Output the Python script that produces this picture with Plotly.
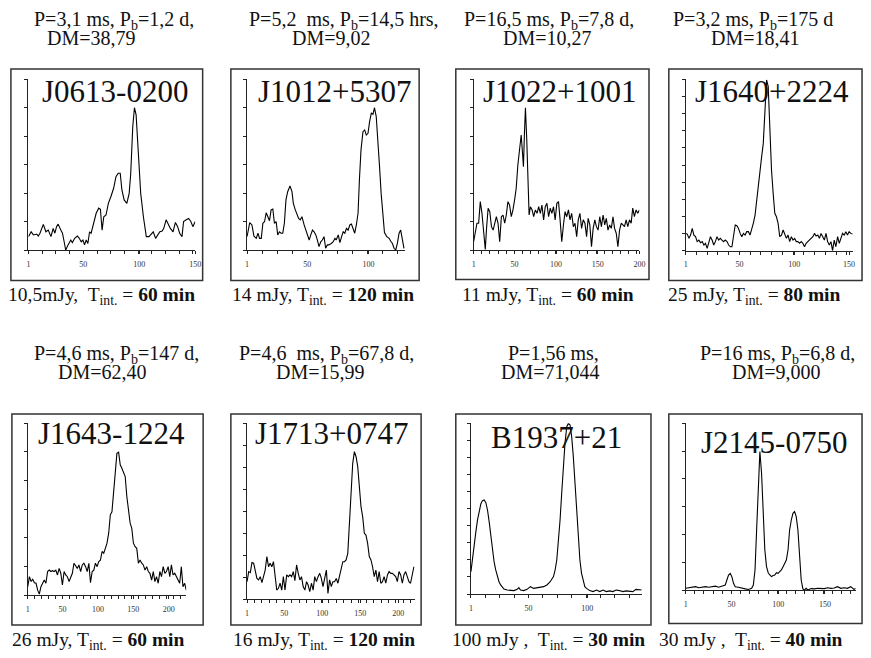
import numpy as np
import plotly.graph_objects as go

W, H = 871, 658

# ------------------------------------------------------------------ data
names = ["J0613-0200", "J1012+5307", "J1022+1001", "J1640+2224",
         "J1643-1224", "J1713+0747", "B1937+21", "J2145-0750"]

header_line1 = ["P=3,1 ms, P<sub>b</sub>=1,2 d,",
                "P=5,2\u00a0 ms, P<sub>b</sub>=14,5 hrs,",
                "P=16,5 ms, P<sub>b</sub>=7,8 d,",
                "P=3,2 ms, P<sub>b</sub>=175 d",
                "P=4,6 ms, P<sub>b</sub>=147 d,",
                "P=4,6\u00a0 ms, P<sub>b</sub>=67,8 d,",
                "P=1,56 ms,",
                "P=16 ms, P<sub>b</sub>=6,8 d,"]
header_line2 = ["DM=38,79", "DM=9,02", "DM=10,27", "DM=18,41",
                "DM=62,40", "DM=15,99", "DM=71,044", "DM=9,000"]
footers = ["10,5mJy,\u00a0 T<sub>int.</sub> = <b>60 min</b>",
           "14 mJy, T<sub>int.</sub> = <b>120 min</b>",
           "11 mJy, T<sub>int.</sub> = <b>60 min</b>",
           "25 mJy, T<sub>int.</sub> = <b>80 min</b>",
           "26 mJy, T<sub>int.</sub> = <b>60 min</b>",
           "16 mJy, T<sub>int.</sub> = <b>120 min</b>",
           "100 mJy ,\u00a0 T<sub>int.</sub> = <b>30 min</b>",
           "30 mJy ,\u00a0 T<sub>int.</sub> = <b>40 min</b>"]

tick_labels = [[1, 50, 100, 150], [1, 50, 100], [1, 50, 100, 150, 200], [1, 50, 100, 150],
               [1, 50, 100, 150, 200], [1, 50, 100, 150, 200], [1, 50, 100], [1, 50, 100, 150]]

J0613_phase = [1, 3.4, 5.4, 8.4, 9.8, 11.3, 14.3, 16.6, 18.7, 21.1,
               23.1, 24.6, 26.1, 27.5, 29.9, 31.4, 32.9, 34.3, 36.4, 38.8,
               40.2, 42.3, 44.7, 46.1, 48.2, 49.7, 51.1, 52.6, 54.1, 55.6,
               57.0, 59.4, 61.5, 63.8, 65.3, 66.8, 68.3, 70.3, 72.4, 74.7,
               77.1, 79.2, 81.2, 83.0, 84.5, 86.5, 88.9, 91.0, 92.4, 94.2,
               95.7, 97.2, 98.9, 101.3, 103.7, 106.3, 108.7, 110.7, 112.5, 114.6,
               116.0, 118.4, 120.5, 121.9, 124.0, 125.8, 127.8, 130.2, 132.3, 134.3,
               136.1, 138.2, 139.6, 142.0, 144.1, 146.1, 147.9, 150.0]
J0613_flux = [0.47, 0.64, 0.53, 0.56, 0.49, 0.59, 0.90, 0.64, 0.70, 0.47,
              0.76, 0.59, 0.82, 0.91, 0.70, 0.59, 0.29, 0.00, 0.18, 0.35,
              0.26, 0.41, 0.49, 0.43, 0.29, 0.35, 0.18, 0.35, 0.23, 0.64,
              0.59, 0.94, 1.29, 1.47, 1.43, 0.70, 1.17, 1.23, 1.64, 1.88,
              2.17, 2.58, 2.70, 2.70, 2.11, 1.76, 1.64, 1.99, 2.70, 4.34,
              5.00, 4.75, 3.63, 1.99, 1.17, 0.47, 0.47, 0.56, 0.64, 0.41,
              0.49, 0.64, 0.67, 0.76, 1.06, 0.91, 0.76, 0.64, 0.97, 0.82,
              0.59, 0.47, 1.00, 1.06, 1.11, 1.00, 0.82, 1.00]

J1012_phase = [1, 3.2, 5, 6.6, 8.5, 9.9, 11.2, 12.6, 13.9, 15.3,
               16.6, 17.9, 19.3, 20.6, 22, 23.3, 24.7, 26, 27.4, 28.7,
               30.1, 31.4, 32.7, 34.1, 36, 37.6, 38.7, 40.3, 41.4, 43,
               44.3, 45.7, 47.5, 48.9, 50.2, 51.6, 52.9, 54.3, 55.6, 57,
               58.3, 59.6, 61, 62.3, 63.7, 65, 66.4, 67.7, 69.6, 71.2,
               72.6, 73.6, 75.3, 76.6, 78, 79.3, 80.6, 82, 83.3, 84.7,
               86, 87.4, 88.7, 90, 91.4, 92.5, 93.8, 95.4, 96.8, 98.1,
               99.5, 100.8, 102.2, 103.5, 104.8, 106.2, 107.5, 108.9, 110.2, 111.6,
               112.9, 114.8, 116.7, 118.3, 119.4, 120.7, 122.1, 123.4, 124.8, 126.1,
               127.4, 128.8]
J1012_flux = [0.47, 0.96, 0.88, 0.49, 0.41, 0.59, 0.41, 0.41, 0.94, 1.00,
              1.31, 1.17, 1.03, 1.41, 1.44, 0.94, 1.00, 0.53, 0.64, 0.59,
              0.59, 0.94, 1.76, 2.05, 2.25, 2.05, 1.64, 1.41, 1.31, 1.11,
              1.06, 1.17, 0.88, 0.70, 0.47, 0.35, 0.53, 0.70, 0.64, 0.53,
              0.35, 0.12, 0.29, 0.35, 0.47, 0.06, 0.18, 0.18, 0.23, 0.29,
              0.41, 0.35, 0.53, 0.26, 0.47, 0.64, 0.59, 0.76, 0.70, 0.88,
              0.91, 0.76, 0.59, 0.88, 1.29, 2.46, 3.52, 4.16, 4.22, 4.04,
              4.10, 4.51, 4.81, 4.77, 5.00, 4.69, 3.93, 2.93, 1.99, 1.11,
              0.61, 0.47, 0.41, 0.29, 0.23, 0.06, 0.00, 0.23, 0.59, 0.70,
              0.35, 0.06]

J1022_phase = [1, 3, 5, 7, 9, 11, 13, 15, 16.5, 18.4,
               20.4, 22.4, 24.4, 26.4, 28.3, 30.3, 32.3, 34.3, 36.3, 38.3,
               40.2, 42.2, 44.2, 46.2, 48.2, 50.2, 52.1, 54.1, 56.1, 58.1,
               59.7, 60.8, 62, 63.2, 64.8, 66, 67.6, 69.2, 71.2, 73.1,
               75.1, 77.1, 79.1, 81.1, 83, 85, 87, 89, 91, 93,
               94.9, 96.9, 98.9, 100.9, 102.9, 104.8, 106.8, 108.8, 110.8, 112.8,
               114.8, 116.7, 118.7, 120.7, 122.7, 124.7, 126.6, 128.6, 130.6, 132.6,
               134.6, 136.6, 138.5, 140.5, 142.5, 144.5, 146.5, 148.4, 150.4, 152.4,
               154.4, 156.4, 158.4, 160.3, 162.3, 164.3, 166.3, 168.3, 170.2, 172.2,
               174.2, 176.2, 178.2, 180.2, 182.1, 184.1, 186.1, 188.1, 190.1, 192,
               194, 196, 198, 200]
J1022_flux = [0.29, 0.59, 0.94, 0.94, 1.70, 1.29, 0.70, 0.02, 0.76, 1.47,
              1.35, 0.82, 0.70, 1.00, 1.17, 0.94, 0.29, 1.17, 1.23, 0.94,
              1.23, 1.70, 1.58, 1.17, 1.41, 1.76, 2.17, 2.99, 3.63, 4.04,
              3.40, 2.93, 4.10, 5.00, 3.87, 2.23, 1.23, 1.52, 1.41, 1.17,
              1.41, 1.29, 1.52, 1.29, 1.58, 1.06, 1.52, 1.64, 1.17, 1.47,
              1.29, 1.52, 1.06, 1.64, 1.70, 1.06, 0.29, 0.88, 1.35, 1.17,
              1.41, 1.06, 1.29, 0.82, 0.94, 0.47, 1.06, 1.29, 0.76, 1.06,
              0.94, 0.47, 1.11, 0.88, 0.12, 0.76, 1.06, 0.82, 0.70, 1.17,
              0.82, 1.23, 0.88, 1.11, 0.70, 0.88, 0.76, 1.17, 0.76, 0.59,
              0.12, 0.70, 0.94, 0.88, 0.82, 1.06, 0.82, 1.06, 0.94, 1.47,
              1.17, 1.41, 1.29, 1.41]

J1640_phase = [1, 2.5, 4, 5.5, 7, 8.5, 10, 11.5, 13, 14.6,
               16.1, 17.6, 19.1, 20.6, 22.1, 23.6, 25.1, 26.6, 28.1, 29.6,
               31.1, 32.6, 34.1, 35.6, 37.1, 38.7, 40.2, 41.7, 43.2, 44.7,
               46.2, 47.7, 49.2, 50.7, 52.2, 53.7, 55.2, 56.7, 58.2, 59.7,
               61.2, 62.7, 64.3, 65.8, 67.3, 68.8, 70.3, 71.8, 73.3, 74.8,
               76.3, 77.8, 79.3, 80.8, 82.3, 83.8, 85.3, 86.8, 88.4, 89.9,
               91.4, 92.9, 94.4, 95.9, 97.4, 98.9, 100.4, 101.9, 103.4, 104.9,
               106.4, 107.9, 109.4, 110.9, 112.4, 114.0, 115.5, 117.0, 118.5, 120.0,
               121.5, 123.0, 124.5, 126.0, 127.5, 129.0, 130.5, 132.0, 133.5, 135.0,
               136.5, 138.0, 139.6, 141.1, 142.6, 144.1, 145.6, 147.1, 148.6, 150.1,
               151.6, 153.1]
J1640_flux = [1.01, 0.97, 0.72, 0.91, 1.30, 0.91, 0.82, 0.53, 0.62, 0.47,
              0.53, 0.33, 0.43, 0.14, 0.47, 0.82, 0.62, 0.33, 0.53, 0.82,
              0.62, 0.72, 0.62, 0.53, 0.62, 0.53, 0.33, 0.23, 0.23, 0.82,
              1.50, 1.46, 1.30, 1.01, 0.82, 1.01, 0.91, 1.11, 1.11, 0.91,
              1.21, 1.60, 2.08, 2.96, 3.74, 4.90, 5.49, 6.26, 7.82, 9.96,
              9.57, 7.04, 4.71, 3.35, 2.18, 1.98, 1.60, 0.82, 0.91, 1.21,
              0.91, 0.72, 0.91, 0.53, 0.82, 0.62, 0.72, 0.53, 0.53, 0.43,
              0.53, 0.43, 0.23, 0.43, 0.53, 0.62, 0.72, 0.82, 1.01, 0.86,
              0.91, 0.72, 1.01, 0.82, 0.62, 1.01, 0.53, 0.33, 0.53, 0.00,
              0.62, 0.23, 0.82, 0.43, 0.72, 1.01, 0.91, 1.11, 0.91, 1.11,
              1.01, 0.97]

J1643_phase = [1, 3.3, 5.7, 8, 10.3, 12.7, 15, 17.3, 19.6, 22,
               24.3, 26.6, 29, 31.3, 33.6, 36, 38.3, 40.6, 42.9, 45.3,
               47.6, 49.9, 52.3, 54.6, 56.9, 59.3, 61.6, 63.9, 66.2, 68.6,
               70.9, 73.2, 75.6, 77.9, 80.2, 82.6, 84.9, 87.2, 89.5, 91.9,
               94.2, 96.5, 98.9, 101.2, 103.5, 105.9, 108.2, 110.5, 112.8, 115.2,
               117.5, 119.8, 122.2, 124.5, 126.8, 129.2, 131.5, 133.8, 136.1, 138.5,
               140.8, 143.1, 145.5, 147.8, 150.1, 152.5, 154.8, 157.1, 159.4, 161.8,
               164.1, 166.4, 168.8, 171.1, 173.4, 175.8, 178.1, 180.4, 182.7, 185.1,
               187.4, 189.7, 192.1, 194.4, 196.7, 199.1, 201.4, 203.7, 206.0, 208.4,
               210.7, 213.0, 215.4, 217.7, 220.0, 222.4, 224.7]
J1643_flux = [0.29, 0.64, 0.47, 0.55, 0.43, 0.41, 0.17, 0.03, 0.29, 0.41,
              0.52, 0.41, 0.82, 0.87, 0.82, 0.85, 0.82, 0.87, 0.70, 0.93,
              0.76, 0.35, 0.82, 0.70, 0.64, 0.47, 0.66, 0.76, 1.11, 0.99,
              0.93, 1.05, 0.82, 1.05, 1.11, 0.99, 0.82, 1.11, 0.43, 0.82,
              0.87, 1.11, 0.99, 1.17, 1.22, 1.52, 1.46, 1.63, 1.81, 2.16,
              2.80, 2.91, 3.67, 4.43, 4.95, 4.99, 4.55, 4.43, 4.25, 4.14,
              3.44, 2.86, 2.51, 2.33, 1.81, 1.69, 1.63, 1.11, 1.22, 1.11,
              1.05, 0.87, 0.99, 0.82, 0.76, 0.52, 0.82, 0.47, 0.64, 0.41,
              0.82, 0.64, 0.99, 0.76, 0.82, 0.99, 0.64, 1.05, 0.70, 0.76,
              0.64, 0.52, 0.41, 0.99, 0.29, 0.41, 0.17]

J1713_phase = [1, 3.2, 5.3, 7.5, 9.7, 11.9, 14, 16.2, 18.4, 20.6,
               22.7, 24.9, 27.1, 29.3, 31.4, 33.6, 35.8, 38, 40.1, 42.3,
               44.5, 46.7, 48.8, 51, 53.2, 55.4, 57.5, 59.7, 61.9, 64,
               66.2, 68.4, 70.6, 72.7, 74.9, 77.1, 79.3, 81.4, 83.6, 85.8,
               88, 90.1, 92.3, 94.5, 96.7, 98.8, 101, 103.2, 105.4, 107.5,
               109.7, 111.9, 114.0, 116.2, 118.4, 120.6, 122.7, 124.9, 127.1, 129.3,
               131.4, 133.6, 135.8, 138, 140.1, 142.3, 144.5, 146.7, 148.8, 151,
               153.2, 155.4, 157.5, 159.7, 161.9, 164.1, 166.2, 168.4, 170.6, 172.7,
               174.9, 177.1, 179.3, 181.4, 183.6, 185.8, 188, 190.1, 192.3, 194.5,
               196.7, 198.8, 201, 203.2, 205.4, 207.5, 209.7, 211.9, 214.1, 216.2,
               218.4, 220.6]
J1713_flux = [0.80, 1.26, 1.21, 1.67, 1.64, 1.33, 0.95, 0.88, 1.03, 0.76,
              1.03, 1.33, 1.94, 1.48, 1.64, 1.48, 1.71, 1.03, 0.42, 0.50,
              0.73, 0.42, 1.03, 0.42, 1.11, 1.03, 1.11, 1.03, 1.26, 0.85,
              1.56, 1.18, 0.88, 1.03, 0.58, 0.42, 0.80, 0.65, 0.35, 0.73,
              0.42, 1.03, 0.80, 1.03, 1.18, 0.95, 0.58, 0.95, 1.33, 0.27,
              0.88, 0.58, 0.80, 0.80, 0.95, 0.73, 1.03, 1.26, 1.71, 1.71,
              1.79, 2.09, 3.45, 5.12, 6.18, 6.71, 6.48, 6.03, 4.97, 4.21,
              3.76, 3.00, 2.92, 2.55, 1.94, 1.79, 1.48, 1.03, 1.33, 0.80,
              1.26, 0.73, 0.80, 1.03, 0.73, 1.11, 1.26, 1.18, 1.18, 1.11,
              1.03, 0.80, 1.26, 1.11, 0.73, 1.11, 1.26, 1.03, 0.80, 0.73,
              1.18, 1.48]

B1937_phase = [1, 2.4, 3.8, 5.2, 6.6, 8, 9.4, 10.8, 12.2, 13.7,
               15.1, 16.5, 17.9, 19.3, 20.7, 22.1, 23.5, 24.9, 26.3, 27.7,
               29.1, 31.9, 34.7, 37.6, 40.4, 41.8, 43.2, 46, 48.8, 51.6,
               54.4, 57.2, 60.1, 62.9, 65.7, 68.5, 71.3, 72.7, 74.1, 75.5,
               76.9, 78.3, 79.7, 81.1, 82.6, 84, 85.4, 86.8, 88.2, 89.6,
               91, 92.4, 93.8, 95.2, 96.6, 98, 99.4, 102.2, 105, 107.9,
               110.7, 113.5, 116.3, 119.1, 121.9, 124.7, 127.5, 130.4, 133.2, 136,
               138.8, 141.6, 144.4, 146.4]
B1937_flux = [1.31, 2.19, 2.97, 3.65, 4.34, 4.88, 5.27, 5.47, 5.51, 5.35,
              4.92, 4.24, 3.36, 2.58, 1.89, 1.41, 1.02, 0.72, 0.53, 0.39,
              0.29, 0.23, 0.23, 0.20, 0.27, 0.37, 0.23, 0.20, 0.27, 0.43,
              0.33, 0.37, 0.39, 0.43, 0.53, 0.72, 1.02, 1.41, 1.99, 2.97,
              4.34, 5.90, 7.46, 8.83, 9.80, 10.0, 9.90, 9.22, 8.05, 6.48,
              4.73, 3.16, 1.99, 1.21, 0.72, 0.43, 0.33, 0.20, 0.14, 0.23,
              0.14, 0.23, 0.14, 0.18, 0.14, 0.23, 0.20, 0.14, 0.18, 0.14,
              0.14, 0.27, 0.27, 0.23]

J2145_phase = [1, 4.5, 8.1, 11.6, 15.1, 18.7, 22.2, 25.7, 29.2, 32.8,
               36.3, 39.8, 43.4, 45.1, 46.9, 48.7, 50.4, 52.2, 54, 57.5,
               61, 64.6, 68.1, 71.6, 73.4, 75.2, 76.9, 78.7, 80.4, 82.2,
               84, 85.7, 87.5, 89.3, 91, 92.8, 94.6, 96.3, 98.1, 99.9,
               101.6, 103.4, 105.2, 106.9, 108.7, 110.5, 112.2, 114, 115.8, 117.5,
               119.3, 121.1, 122.8, 124.6, 126.4, 128.1, 129.9, 131.6, 135.2, 138.7,
               142.2, 145.8, 149.3, 152.8, 156.4, 159.9, 163.4, 167, 170.5, 174,
               177.6, 181.1, 182.8]
J2145_flux = [0.06, 0.08, 0.10, 0.12, 0.08, 0.10, 0.12, 0.10, 0.12, 0.14,
              0.10, 0.14, 0.18, 0.36, 0.54, 0.60, 0.48, 0.24, 0.12, 0.10,
              0.06, 0.04, 0.02, 0.06, 0.18, 0.72, 2.16, 3.84, 4.98, 4.20,
              2.64, 1.44, 0.84, 0.62, 0.54, 0.48, 0.52, 0.54, 0.62, 0.60,
              0.66, 0.72, 0.84, 0.96, 1.08, 1.44, 2.16, 2.52, 2.76, 2.82,
              2.64, 2.16, 1.20, 0.36, 0.04, 0.00, 0.06, 0.00, 0.05, 0.04,
              0.06, 0.06, 0.05, 0.08, 0.06, 0.07, 0.12, 0.06, 0.08, 0.06,
              0.12, 0.02, 0.06]

phases = [J0613_phase, J1012_phase, J1022_phase, J1640_phase,
          J1643_phase, J1713_phase, B1937_phase, J2145_phase]
fluxes = [J0613_flux, J1012_flux, J1022_flux, J1640_flux,
          J1643_flux, J1713_flux, B1937_flux, J2145_flux]

# ------------------------------------------------------------------ layout geometry (pixels)
plot_px = [(26.7, 195.0, 79.3, 250.0), (247.3, 407.2, 79.3, 250.0),
           (476.0, 643.3, 79.3, 250.0), (690.0, 859.3, 79.3, 250.7),
           (26.0, 186.0, 423.3, 595.0), (247.3, 416.7, 423.3, 599.3),
           (473.3, 645.7, 423.3, 594.0), (690.0, 861.7, 423.3, 590.0)]
x_max = [150, 130, 200, 154, 224.7, 221.9, 146.5, 183]
y_max = [6, 6, 6, 10, 6, 8, 10, 6]
minor_step = [12.25, 12.25, 9.8, 9.8, 9.8, 9.8, 12.25, 9.8]
box_px = [(9, 202.5, 69, 280.5), (231, 421, 69, 280.5), (458, 653, 69, 279.5), (673, 868, 69, 280.5),
          (10, 203, 414, 625), (231, 423, 414, 625), (458, 655, 414, 625), (673, 868, 414, 623.5)]
title_pos = [(114, 91), (336.5, 91), (563, 91), (777, 91),
             (111, 433), (333, 434), (560, 437), (779, 442.5)]
head1_pos = [(113.5, 20.5), (345, 20.5), (552, 20.5), (757.5, 20.5),
             (116, 354), (328, 354), (557, 352.5), (783, 354)]
head2_pos = [(90, 37.5), (332.5, 37.5), (551, 37.5), (760, 37.5),
             (101.5, 371.5), (321, 371.5), (554, 371.5), (782, 371.5)]
foot_pos = [(100.5, 296), (324, 296), (551, 296), (759, 296),
            (97.5, 641), (325, 641), (552, 641), (756, 641)]

SERIF = "Liberation Serif, Times New Roman, serif"
AX = "#222222"

fig = go.Figure()
layout = dict(width=W, height=H, margin=dict(l=0, r=0, t=0, b=0),
              paper_bgcolor="white", plot_bgcolor="white", showlegend=False)
shapes, annotations = [], []

def fx(p):
    return p / W

def fy(p):
    return 1 - p / H

for i in range(8):
    n = i + 1
    sx = "" if n == 1 else str(n)
    fig.add_trace(go.Scatter(x=phases[i], y=fluxes[i], mode="lines",
                             line=dict(color="black", width=1.1),
                             xaxis="x" + sx, yaxis="y" + sx, hoverinfo="skip"))
    x0, x1, y0, y1 = plot_px[i]
    minor_vals = list(np.arange(1, x_max[i] + 0.01, minor_step[i]))
    layout["xaxis" + sx] = dict(
        domain=[fx(x0), fx(x1)], range=[1, x_max[i]], anchor="y" + sx,
        showline=True, linecolor=AX, linewidth=1, mirror=False,
        ticks="outside", ticklen=3, tickwidth=1, tickcolor=AX,
        tickvals=tick_labels[i], ticktext=[str(v) for v in tick_labels[i]],
        tickfont=dict(family=SERIF, size=8, color="#333"), ticklabelstandoff=3,
        minor=dict(tickvals=minor_vals, ticks="outside", ticklen=3, tickcolor=AX, showgrid=False),
        showgrid=False, zeroline=False, fixedrange=True)
    layout["yaxis" + sx] = dict(
        domain=[fy(y1), fy(y0)], range=[0, y_max[i]], anchor="x" + sx,
        showline=True, linecolor=AX, linewidth=1,
        ticks="outside", ticklen=3, tickwidth=1, tickcolor=AX, dtick=1,
        showticklabels=False, showgrid=False, zeroline=False, fixedrange=True)

    bx0, bx1, by0, by1 = box_px[i]
    shapes.append(dict(type="rect", xref="paper", yref="paper",
                       x0=fx(bx0), x1=fx(bx1), y0=fy(by1), y1=fy(by0),
                       line=dict(color="#333333", width=1.5), layer="below"))

    tx, ty = title_pos[i]
    annotations.append(dict(text=names[i], x=fx(tx), y=fy(ty), xref="paper", yref="paper",
                            xanchor="center", yanchor="middle", showarrow=False,
                            font=dict(family=SERIF, size=31, color="#111")))
    hx, hy = head1_pos[i]
    annotations.append(dict(text=header_line1[i], x=fx(hx), y=fy(hy), xref="paper", yref="paper",
                            xanchor="center", yanchor="middle", showarrow=False,
                            font=dict(family=SERIF, size=20, color="#111")))
    hx, hy = head2_pos[i]
    annotations.append(dict(text=header_line2[i], x=fx(hx), y=fy(hy), xref="paper", yref="paper",
                            xanchor="center", yanchor="middle", showarrow=False,
                            font=dict(family=SERIF, size=20, color="#111")))
    fx_, fy_ = foot_pos[i]
    annotations.append(dict(text=footers[i], x=fx(fx_), y=fy(fy_), xref="paper", yref="paper",
                            xanchor="center", yanchor="middle", showarrow=False,
                            font=dict(family=SERIF, size=19.5, color="#111")))

layout["shapes"] = shapes
layout["annotations"] = annotations
fig.update_layout(**layout)
fig.write_html("out.html", config={"displayModeBar": False},
               post_script="document.body.style.margin='0';document.body.style.padding='0';"
                           "document.body.style.overflow='hidden';")
